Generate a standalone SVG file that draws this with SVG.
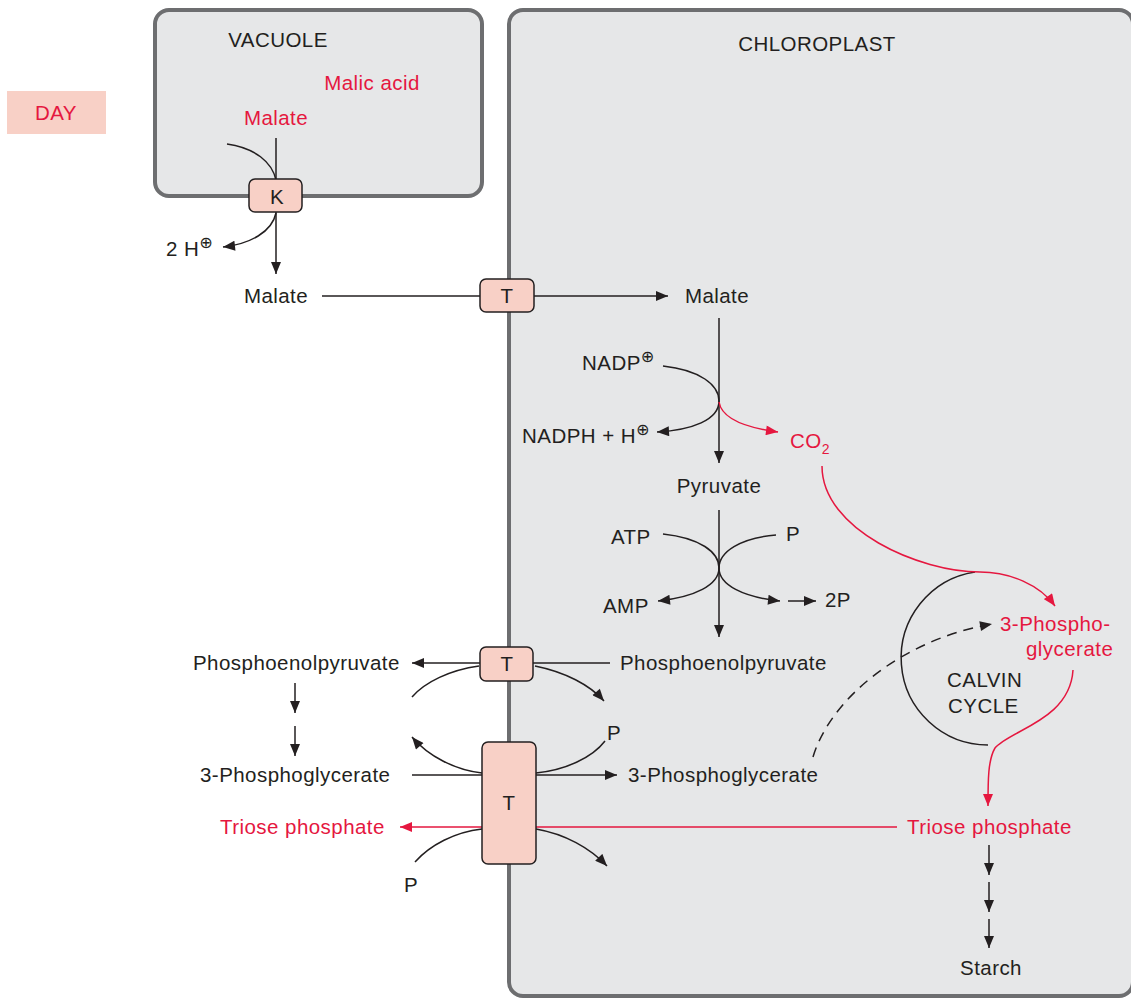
<svg xmlns="http://www.w3.org/2000/svg" width="1131" height="998" viewBox="0 0 1131 998">
  <style>
    text { font-family: "Liberation Sans", Arial, sans-serif; font-size: 20.5px; fill: #231f20; letter-spacing: 0.45px; }
    .red { fill: #e5173f; }
    .sup { font-family: "DejaVu Sans", sans-serif; font-size: 16px; letter-spacing: 0; }
    .compart { fill: #e6e7e8; stroke: #6d6e70; stroke-width: 4; }
    .carrier { fill: #f8d0c6; stroke: #231f20; stroke-width: 1.5; }
    .ln { fill: none; stroke: #231f20; stroke-width: 1.5; }
    .lnr { fill: none; stroke: #e5173f; stroke-width: 1.5; }
    .arr { marker-end: url(#ah); }
    .arrr { marker-end: url(#ahr); }
    .dash { stroke-dasharray: 10 7; }
  </style>
  <defs>
    <marker id="ah" viewBox="0 0 12 10" refX="12" refY="5" markerWidth="13" markerHeight="10" markerUnits="userSpaceOnUse" orient="auto">
      <path d="M0 0 L12 5 L0 10 Z" fill="#231f20"/>
    </marker>
    <marker id="ahr" viewBox="0 0 12 10" refX="12" refY="5" markerWidth="13" markerHeight="10" markerUnits="userSpaceOnUse" orient="auto">
      <path d="M0 0 L12 5 L0 10 Z" fill="#e5173f"/>
    </marker>
  </defs>

  <!-- compartments -->
  <g id="chloroplast">
    <rect class="compart" x="509" y="10" width="624" height="986" rx="14"/>
    <text x="817" y="51" text-anchor="middle">CHLOROPLAST</text>
  </g>
  <g id="vacuole">
    <rect class="compart" x="155" y="10" width="327" height="186" rx="14"/>
    <text x="278" y="47" text-anchor="middle">VACUOLE</text>
    <text class="red" x="372" y="90" text-anchor="middle">Malic acid</text>
    <text class="red" x="276" y="125" text-anchor="middle">Malate</text>
  </g>
  <g id="day">
    <rect x="7" y="91" width="99" height="43" fill="#f8d0c6"/>
    <text class="red" x="56" y="120" text-anchor="middle">DAY</text>
  </g>

  <!-- connectors -->
  <g id="connectors">
    <!-- vacuole export -->
    <path class="ln" d="M276 138 V180"/>
    <path class="ln" d="M227 144 C255 148 272 162 276 180"/>
    <path class="ln arr" d="M276 212 V274"/>
    <path class="ln arr" d="M276 213 C272 232 250 244 223 247"/>
    <!-- malate import -->
    <path class="ln" d="M322 296 H480"/>
    <path class="ln arr" d="M534 296 H668"/>
    <!-- malic enzyme -->
    <path class="ln arr" d="M719 318 V463"/>
    <path class="ln arr" d="M663 366 C700 370 719 385 719 401 C719 420 692 430 657 432"/>
    <path class="lnr arrr" d="M719 402 C722 420 748 428 778 432"/>
    <!-- pyruvate, phosphate dikinase -->
    <path class="ln arr" d="M719 510 V637"/>
    <path class="ln arr" d="M663 534 C700 538 719 552 719 568 C719 585 695 597 658 601"/>
    <path class="ln arr" d="M776 535 C740 538 719 552 719 568 C719 585 743 597 780 601"/>
    <path class="ln arr" d="M788 601 H816"/>
    <!-- PEP export -->
    <path class="ln" d="M610 663 H533"/>
    <path class="ln arr" d="M480 663 H412"/>
    <path class="ln" d="M479 666 C450 670 425 682 412 697"/>
    <path class="ln arr" d="M535 666 C565 672 590 685 604 701"/>
    <path class="ln arr" d="M295 683 V713"/>
    <path class="ln arr" d="M295 726 V756"/>
    <!-- 3-PGA import -->
    <path class="ln" d="M412 775 H482"/>
    <path class="ln arr" d="M482 773 C455 770 428 756 412 737"/>
    <path class="ln arr" d="M536 775 H617"/>
    <path class="ln" d="M536 773 C565 770 592 758 605 741"/>
    <!-- triose phosphate export -->
    <path class="lnr" d="M897 827 H536"/>
    <path class="lnr arrr" d="M482 827 H400"/>
    <path class="ln" d="M482 829 C455 832 430 845 415 862"/>
    <path class="ln arr" d="M536 829 C565 834 590 848 607 866"/>
    <!-- Calvin cycle -->
    <path class="ln" d="M975 572 A87 87 0 0 0 988 745"/>
    <path class="lnr arrr" d="M822 466 C822 530 920 572 980 572 C1010 572 1040 585 1055 606"/>
    <path class="lnr arrr" d="M1073 670 C1070 720 1010 730 995 748 C988 760 988 780 988 806"/>
    <path class="ln dash arr" d="M813 757 C830 700 900 640 992 624"/>
    <!-- starch synthesis -->
    <path class="ln arr" d="M989 845 V875"/>
    <path class="ln arr" d="M989 882 V912"/>
    <path class="ln arr" d="M989 919 V948"/>
  </g>

  <!-- carriers -->
  <g id="carrier-k">
    <rect class="carrier" x="249" y="179" width="53" height="33" rx="6"/>
    <text x="277" y="204" text-anchor="middle">K</text>
  </g>
  <g id="carrier-t1">
    <rect class="carrier" x="480" y="279" width="54" height="33" rx="6"/>
    <text x="507" y="303" text-anchor="middle">T</text>
  </g>
  <g id="carrier-t2">
    <rect class="carrier" x="480" y="647" width="53" height="34" rx="6"/>
    <text x="507" y="671" text-anchor="middle">T</text>
  </g>
  <g id="carrier-t3">
    <rect class="carrier" x="482" y="742" width="54" height="122" rx="6"/>
    <text x="509" y="810" text-anchor="middle">T</text>
  </g>

  <!-- metabolites -->
  <g id="h-ion"><text x="166" y="256">2 H<tspan class="sup" dy="-8">⊕</tspan></text></g>
  <g id="malate-cyt"><text x="276" y="303" text-anchor="middle">Malate</text></g>
  <g id="malate-chl"><text x="717" y="303" text-anchor="middle">Malate</text></g>
  <g id="nadp"><text x="582" y="370">NADP<tspan class="sup" dy="-8">⊕</tspan></text></g>
  <g id="nadph"><text x="522" y="443">NADPH + H<tspan class="sup" dy="-8">⊕</tspan></text></g>
  <g id="co2"><text class="red" x="790" y="448">CO<tspan font-size="14" dy="6">2</tspan></text></g>
  <g id="pyruvate"><text x="719" y="493" text-anchor="middle">Pyruvate</text></g>
  <g id="atp"><text x="611" y="544">ATP</text></g>
  <g id="p-in"><text x="786" y="541">P</text></g>
  <g id="amp"><text x="603" y="613">AMP</text></g>
  <g id="two-p"><text x="825" y="607">2P</text></g>
  <g id="pep-chl"><text x="620" y="670">Phosphoenolpyruvate</text></g>
  <g id="pep-cyt"><text x="193" y="670">Phosphoenolpyruvate</text></g>
  <g id="pga-cyt"><text x="200" y="782">3-Phosphoglycerate</text></g>
  <g id="pga-chl"><text x="628" y="782">3-Phosphoglycerate</text></g>
  <g id="p-chl"><text x="607" y="740">P</text></g>
  <g id="p-cyt"><text x="404" y="892">P</text></g>
  <g id="triose-cyt"><text class="red" x="220" y="834">Triose phosphate</text></g>
  <g id="triose-chl"><text class="red" x="907" y="834">Triose phosphate</text></g>
  <g id="pga-calvin">
    <text class="red" x="1000" y="631">3-Phospho-</text>
    <text class="red" x="1026" y="656">glycerate</text>
  </g>
  <g id="calvin">
    <text x="947" y="687">CALVIN</text>
    <text x="948" y="713">CYCLE</text>
  </g>
  <g id="starch"><text x="991" y="975" text-anchor="middle">Starch</text></g>
</svg>
